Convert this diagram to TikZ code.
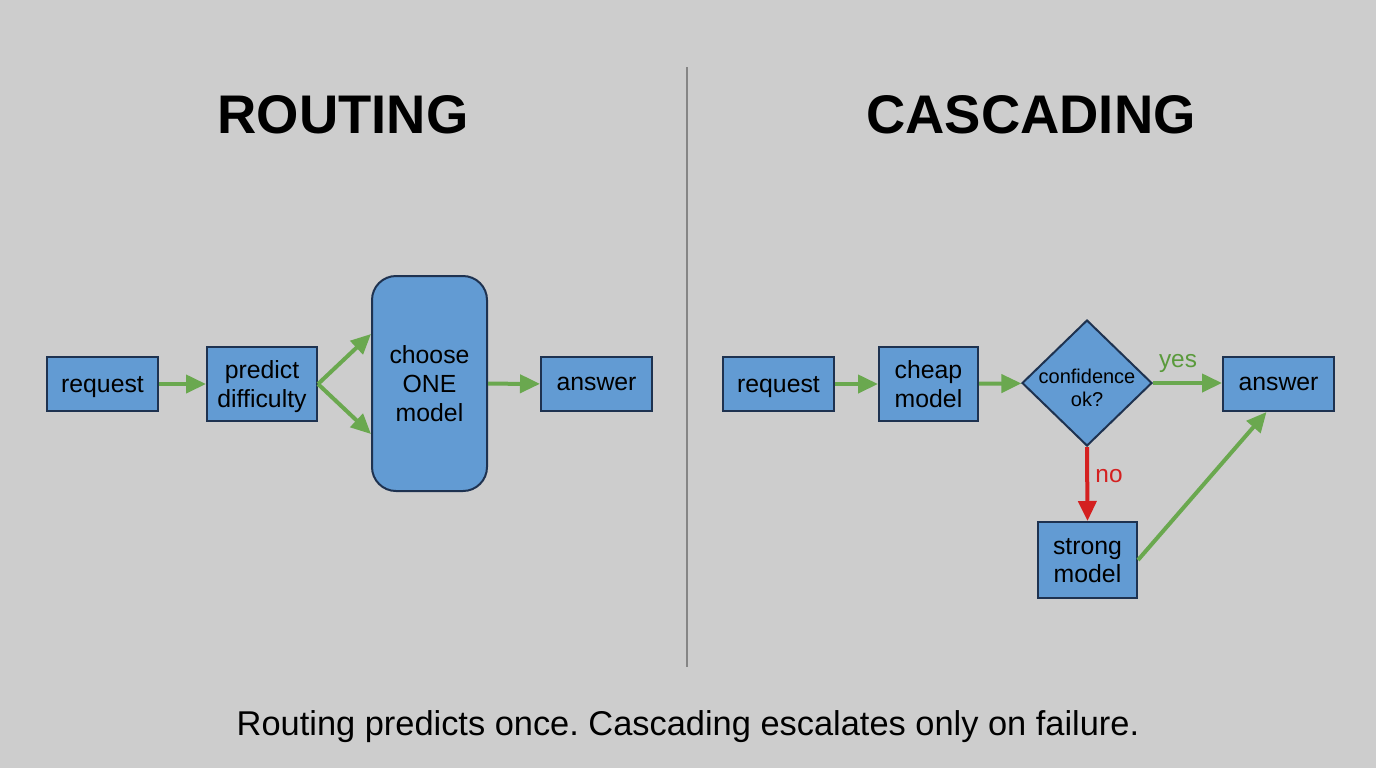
\documentclass[tikz,border=0pt]{standalone}
\usepackage{fontspec}
\setmainfont{Liberation Sans}
\usetikzlibrary{arrows.meta,shapes.geometric}
\definecolor{bg}{HTML}{CDCDCD}
\definecolor{boxfill}{HTML}{629BD3}
\definecolor{boxline}{HTML}{1E3250}
\definecolor{agreen}{HTML}{6AA84F}
\definecolor{tgreen}{HTML}{5A9A3C}
\definecolor{ared}{HTML}{D42020}
\definecolor{divider}{HTML}{858585}
\frenchspacing
\begin{document}
\begin{tikzpicture}[x=0.5pt,y=-0.5pt,
  box/.style={draw=boxline,fill=boxfill,line width=1pt,inner sep=0pt,text depth=0pt,
    font=\fontsize{12.4}{14}\selectfont,align=center},
  decision/.style={diamond,draw=boxline,fill=boxfill,line width=1pt,inner sep=-3pt,
    minimum width=65pt,minimum height=63pt,
    font=\fontsize{10}{11.5}\selectfont,align=center},
  garrow/.style={draw=agreen,line width=2pt,-{Triangle[length=10pt,width=9pt]}},
  rarrow/.style={draw=ared,line width=2pt,-{Triangle[length=10pt,width=9pt]}},
  title/.style={font=\fontsize{27.2}{30}\selectfont\bfseries,anchor=base},
  lbl/.style={font=\fontsize{12.2}{14}\selectfont}]
\fill[bg] (0,0) rectangle (1376,768);
\useasboundingbox (0,0) rectangle (1376,768);

% titles and divider
\node[title] (t1) at (343,133) {ROUTING};
\node[title] (t2) at (1031,133) {CASCADING};
\draw[divider,line width=1pt] (687,67) -- (687,667);

% routing
\node[box,minimum width=55.5pt,minimum height=27pt] (req1) at (102.5,384) {request};
\node[box,minimum width=55pt,minimum height=37pt] (pred) at (262,384) {predict\\difficulty};
\node[box,minimum width=57.5pt,minimum height=107.5pt,rounded corners=12pt,
  font=\fontsize{12.4}{14.3}\selectfont] (choose) at (429.5,383.5) {choose\\ONE\\model};
\node[box,minimum width=55.5pt,minimum height=27pt] (ans1) at (596.5,384) {answer};
\coordinate (cin1) at (371,334);
\coordinate (cin2) at (371,434);
\draw[garrow] (req1) -- (pred);
\draw[garrow] (pred.east) -- (cin1);
\draw[garrow] (pred.east) -- (cin2);
\draw[garrow] (choose) -- (ans1);

% cascading
\node[box,minimum width=55.5pt,minimum height=27pt] (req2) at (778.5,384) {request};
\node[box,minimum width=49.5pt,minimum height=37pt] (cheap) at (928.5,384) {cheap\\model};
\node[decision] (conf) at (1087,383)
  {\raisebox{-3.5pt}[\height][\depth]{\begin{tabular}{@{}c@{}}confidence\\ok?\end{tabular}}};
\node[box,minimum width=55.5pt,minimum height=27pt] (ans2) at (1278.5,384) {answer};
\node[box,minimum width=49.5pt,minimum height=38pt] (strong) at (1087.5,560) {strong\\model};
\draw[garrow] (req2) -- (cheap);
\draw[garrow] (cheap) -- (conf);
\draw[garrow] (conf.east) -- (ans2.west |- conf.east);
\draw[rarrow] (conf.south) -- (strong.north);
\draw[garrow] (strong.east) -- ([xshift=-6pt]ans2.south);
\node[lbl,text=tgreen] (yes) at (1178,363) {yes};
\node[lbl,text=ared] (no) at (1109,476) {no};

% caption
\node[font=\fontsize{17.2}{20}\selectfont,anchor=base] (cap) at (688,735)
  {Routing predicts once. Cascading escalates only on failure.};
\end{tikzpicture}
\end{document}
